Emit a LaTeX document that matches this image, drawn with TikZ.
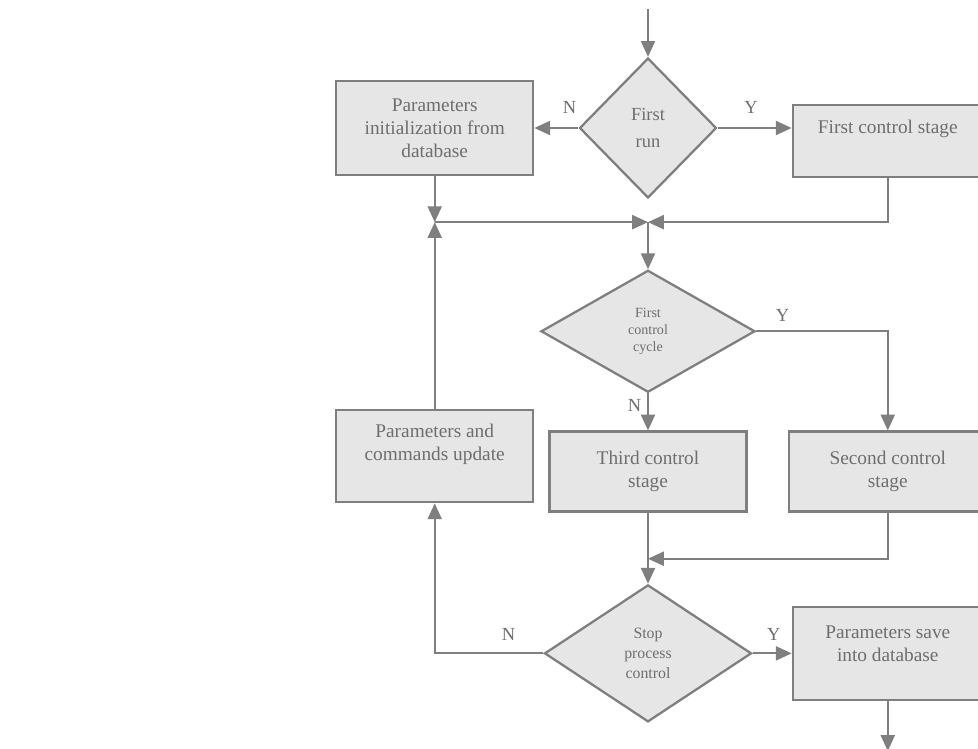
\documentclass[tikz,border=0pt]{standalone}
\usepackage{fontspec}
\setmainfont{Liberation Serif}
\usetikzlibrary{shapes.geometric,arrows.meta,positioning}

\definecolor{linegray}{HTML}{7F7F7F}
\definecolor{boxfill}{HTML}{E6E6E6}
\definecolor{textgray}{HTML}{6E6E6E}

\begin{document}
\begin{tikzpicture}[node distance=1cm, auto]
\tikzset{
    %Define standard arrow tip
    >={Triangle[length=9pt,width=8pt]},
    %Define style for boxes
    stagebox/.style={
           rectangle,
           draw=linegray, line width=1.3pt,
           fill=boxfill,
           text=textgray,
           minimum width=3.94cm,
           minimum height=1.6cm,
           align=center,
           font=\fontsize{11}{13}\selectfont},
    % text set higher than the box centre
    boxtext/.style={
           text=textgray,
           align=center,
           font=\fontsize{11}{13}\selectfont},
    % Define style for decisions
    test/.style={
           diamond,
           draw=linegray, line width=1.3pt,
           fill=boxfill,
           text=textgray,
           inner sep=0pt,
           align=center},
    % Define arrow style
    pil/.style={
           ->,
           draw=linegray,
           line width=1.1pt},
    % Y and N on the branches
    yn/.style={
           text=textgray,
           font=\fontsize{10.5}{12}\selectfont}
}
\useasboundingbox (0,0) rectangle (19.56,-14.98);
 %nodes
 \node[test, minimum width=2.74cm, minimum height=2.8cm,
       font=\fontsize{10.5}{15}\selectfont] (firstrun) at (12.96,-2.56) {First\\run};
 \node[stagebox, minimum height=1.88cm, left=0.88cm of firstrun]
 (init) {Parameters\\initialization from\\database};
 \node[test, minimum width=4.28cm, minimum height=2.44cm,
       font=\fontsize{8}{9.6}\selectfont, below=1.4cm of firstrun] (cycle) {First\\control\\cycle};
 \node[stagebox, below=0.74cm of cycle] (third) {Third control\\stage};
 \node[stagebox, minimum width=3.96cm, right=0.8cm of third] (second) {Second control\\stage};
 \node[stagebox, minimum width=3.8cm, minimum height=1.44cm, above=5.04cm of second] (stage1) {};
 \node[boxtext] (stage1txt) at ([yshift=0.24cm]stage1.center) {First control stage};
 \node[stagebox, minimum height=1.84cm, below=4.66cm of init] (update) {};
 \node[boxtext] (updatetxt) at ([yshift=0.24cm]update.center) {Parameters and\\commands update};
 \node[test, minimum width=4.14cm, minimum height=2.74cm,
       font=\fontsize{9}{11.3}\selectfont, below=1.42cm of third] (stop) {Stop\\process\\control};
 \node[stagebox, minimum width=3.8cm, minimum height=1.86cm, right=0.78cm of stop] (save) {};
 \node[boxtext] (savetxt) at ([yshift=0.19cm]save.center) {Parameters save\\into database};
 % junctions and loose ends
 \coordinate[above=0.96cm of firstrun.north] (start);
 \coordinate[below=0.92cm of init] (jl);
 \coordinate (jr) at (firstrun |- jl);
 \coordinate[below=0.92cm of second] (mr);
 \coordinate[below=1cm of save] (finish);
 %connectors
 \draw[pil] (start) -- (firstrun);
 \draw[pil] (firstrun.west) -- node[yn, above, pos=0.2, yshift=0.15cm] {N} (firstrun.west -| init.east);
 \draw[pil] (firstrun.east) -- node[yn, above, pos=0.45, yshift=0.15cm] {Y} (firstrun.east -| stage1.west);
 \draw[pil] (init) -- (jl);
 \draw[pil] (update) -- (jl);
 \draw[pil] (jl) -- (jr);
 \draw[pil] (stage1) |- (jr);
 \draw[pil] (jr) -- (cycle);
 \draw[pil] (cycle.east) -| node[yn, above, pos=0.1, yshift=0.05cm] {Y} (second);
 \draw[pil] (cycle) -- node[yn, left, pos=0.33] {N} (third);
 \draw[pil] (third) -- (stop);
 \draw[pil] (second) |- (mr -| third.south);
 \draw[pil] (stop.west) -| node[yn, above, pos=0.16, yshift=0.12cm] {N} (update);
 \draw[pil] (stop.east) -- node[yn, above, pos=0.54, yshift=0.12cm] {Y} (save);
 \draw[pil] (save) -- (finish);
\end{tikzpicture}
\end{document}
